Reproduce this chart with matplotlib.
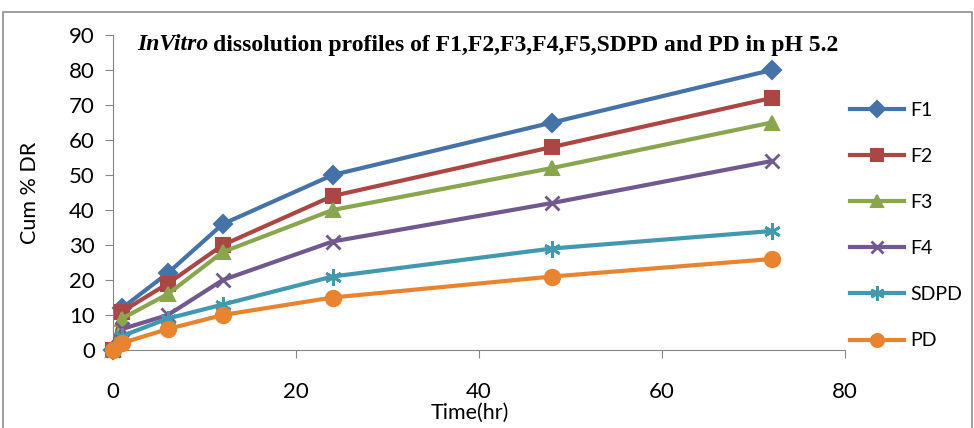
import matplotlib
matplotlib.use("Agg")
import matplotlib.pyplot as plt
from matplotlib.patches import Rectangle

# datos
time_hr = [0, 1, 6, 12, 24, 48, 72]
f1 = [0, 12, 22, 36, 50, 65, 80]
f2 = [0, 11, 19, 30, 44, 58, 72]
f3 = [0, 9, 16, 28, 40, 52, 65]
f4 = [0, 6, 10, 20, 31, 42, 54]
sdpd = [0, 4, 9, 13, 21, 29, 34]
pd_ = [0, 2, 6, 10, 15, 21, 26]
labels = ["F1", "F2", "F3", "F4", "SDPD", "PD"]

SERIES = [
    (f1, "#4572a7", "D", 9),
    (f2, "#aa4643", "s", 10),
    (f3, "#89a54e", "^", 10),
    (f4, "#71588f", "x", 10),
    (sdpd, "#4198af", (6, 2, 0), 12),
    (pd_, "#e8842f", "o", 11),
]
FONT = "Lato"
GRID = "#868686"
W, H = 974, 428

fig = plt.figure(figsize=(W / 100, H / 100), dpi=100, facecolor="white")
fig.patches.append(Rectangle((3 / W, -0.01), 969 / W, 1 - 12 / H + 0.01,
                             transform=fig.transFigure, fill=False,
                             edgecolor="#8c8c8c", lw=1.2))
ax = fig.add_axes([113 / W, 1 - 350 / H, 732 / W, 315 / H])

for (vals, col, mk, ms), lab in zip(SERIES, labels):
    filled = mk != "x" and not isinstance(mk, tuple)
    ax.plot(time_hr, vals, color=col, lw=3, marker=mk, markersize=ms,
            markerfacecolor=col, markeredgecolor=col,
            markeredgewidth=1.5 if filled else 2, label=lab, clip_on=False, zorder=3)

ax.set_xlim(0, 80)
ax.set_ylim(0, 90)
ax.set_xticks(range(0, 81, 20))
ax.set_yticks(range(0, 91, 10))
for s in ("top", "right"):
    ax.spines[s].set_visible(False)
for s in ("left", "bottom"):
    ax.spines[s].set_color(GRID)
ax.tick_params(axis="y", direction="out", length=6, color=GRID, labelsize=16, pad=7)
ax.tick_params(axis="x", direction="out", length=6, color=GRID, labelsize=16, pad=17)
for t in ax.get_xticklabels() + ax.get_yticklabels():
    t.set_fontfamily(FONT)

fig.text(30 / W, 1 - 193 / H, "Cum % DR", rotation=90, ha="center", va="center",
         fontsize=15.5, fontfamily=FONT)
fig.text(470 / W, 1 - 413 / H, "Time(hr)", ha="center", va="center",
         fontsize=15.5, fontfamily=FONT)

# título: "InVitro" en cursiva y el resto justo detrás
t1 = fig.text(137 / W, 1 - 45 / H, "InVitro", ha="left", va="center", fontsize=17,
              fontfamily="Liberation Serif", fontweight="bold", fontstyle="italic")
fig.canvas.draw()
bb = t1.get_window_extent(fig.canvas.get_renderer())
fig.text((bb.x1 + 5) / W, 1 - 45 / H,
         "dissolution profiles of F1,F2,F3,F4,F5,SDPD and PD in pH 5.2",
         ha="left", va="center", fontsize=17, fontfamily="Liberation Serif",
         fontweight="bold")

ax.legend(loc="upper left", bbox_to_anchor=(832 / W, 1 - 84 / H),
          bbox_transform=fig.transFigure, frameon=False,
          prop={"family": FONT, "size": 14}, handlelength=2.8,
          labelspacing=1.5, handletextpad=0.35, markerscale=0.85)

fig.savefig("out.png", dpi=100, facecolor="white")
